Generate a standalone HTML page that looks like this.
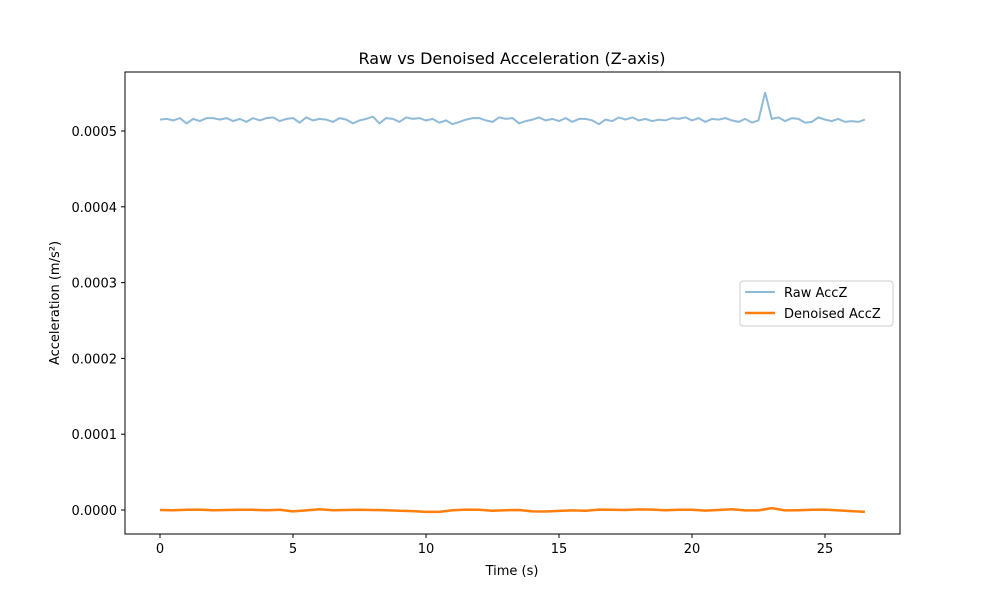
<!DOCTYPE html>
<html><head><meta charset="utf-8"><style>
body{margin:0;background:#fff;font-family:"Liberation Sans","DejaVu Sans",sans-serif}
</style></head><body>
<svg id="chart" width="1000" height="600" font-family="DejaVu Sans, Liberation Sans, sans-serif"></svg>
<script>
const rawStep = 0.25;
const rawValues = [515,516,514,517,510,516,513,517,517,515,517,513,516,512,517,514,517,518,513,516,517,511,518,514,516,515,512,517,515,510,514,516,519,510,517,516,512,518,516,517,514,516,511,514,509,512,515,517,517,514,512,518,516,517,510,513,515,518,514,516,513,517,512,516,516,514,509,515,513,518,515,518,514,516,513,515,514,517,516,518,514,517,512,516,515,517,514,512,516,511,514,551,516,518,513,517,516,511,512,518,515,513,516,512,513,512,515];
const denStep = 0.5;
const denValues = [0,-0.3,0.2,0.5,-0.3,0,0.2,0.2,-0.2,0.2,-1.8,-0.5,1,-0.3,0,0.2,0,-0.3,-1,-1.5,-2.5,-2.5,-0.3,0.5,0.2,-1,-0.3,0,-1.8,-2,-1.2,-0.5,-1,0.5,0.3,0,0.8,0.5,-0.3,0.3,0.2,-0.8,0,1,-0.5,-0.5,2.5,-0.5,-0.3,0.3,0.5,-0.5,-1.5,-2.5];
const xTicks = [0,5,10,15,20,25];
const yTicks = [0,0.0001,0.0002,0.0003,0.0004,0.0005];
const yTickLabels = ["0.0000","0.0001","0.0002","0.0003","0.0004","0.0005"];

const svg = document.getElementById('chart');
const NS = 'http://www.w3.org/2000/svg';
const X = v => 160 + v * 26.6;
const Y = v => 510 - v * 758000;
function mk(tag, attrs){const e=document.createElementNS(NS,tag);for(const k in attrs)e.setAttribute(k,attrs[k]);svg.appendChild(e);return e;}
function txt(s, attrs){const e=mk('text',attrs);e.textContent=s;return e;}

const title = txt('Raw vs Denoised Acceleration (Z-axis)',{x:512,y:64,'text-anchor':'middle','font-size':16,fill:'#000'});



let d='';
rawValues.forEach((v,i)=>{d+=(i?'L':'M')+X(i*rawStep).toFixed(1)+','+Y(v*1e-6).toFixed(1);});
const raw = mk('path',{d:d,fill:'none',stroke:'#1f77b4','stroke-opacity':0.5,'stroke-width':2});


d='';
denValues.forEach((v,i)=>{d+=(i?'L':'M')+X(i*denStep).toFixed(1)+','+Y(v*1e-6).toFixed(1);});
const den = mk('path',{d:d,fill:'none',stroke:'#ff7f0e','stroke-width':2.5,'stroke-linejoin':'round'});



const frame = mk('rect',{x:125,y:72,width:775,height:462,fill:'none',stroke:'#000','stroke-width':1});



xTicks.forEach(t=>{
  const l=mk('line',{x1:X(t),x2:X(t),y1:534,y2:538,stroke:'#000'});
  
  
  const s=txt(String(t),{x:X(t),y:553,'text-anchor':'middle','font-size':13,fill:'#000'});
  
  
});
yTicks.forEach((t,i)=>{
  const l=mk('line',{x1:121,x2:125,y1:Y(t),y2:Y(t),stroke:'#000'});
  
  
  const s=txt(yTickLabels[i],{x:117,y:Y(t)+5,'text-anchor':'end','font-size':13,fill:'#000'});
  
  
});
const xl=txt('Time (s)',{x:512,y:575,'text-anchor':'middle','font-size':13,fill:'#000'});


const yl=txt('Acceleration (m/s²)',{x:0,y:0,'text-anchor':'middle','font-size':13,fill:'#000',transform:'translate(59,303) rotate(-90)'});



const lg=mk('rect',{x:740,y:281,width:153,height:45,rx:3,fill:'#fff',stroke:'#ccc','fill-opacity':0.8});


const l1=mk('line',{x1:745,x2:775,y1:292,y2:292,stroke:'#1f77b4','stroke-opacity':0.5,'stroke-width':2});


const t1=txt('Raw AccZ',{x:784,y:297,'font-size':13,fill:'#000'});


const l2=mk('line',{x1:745,x2:775,y1:313,y2:313,stroke:'#ff7f0e','stroke-width':2.5});


const t2=txt('Denoised AccZ',{x:784,y:318,'font-size':13,fill:'#000'});


</script>
</body></html>
